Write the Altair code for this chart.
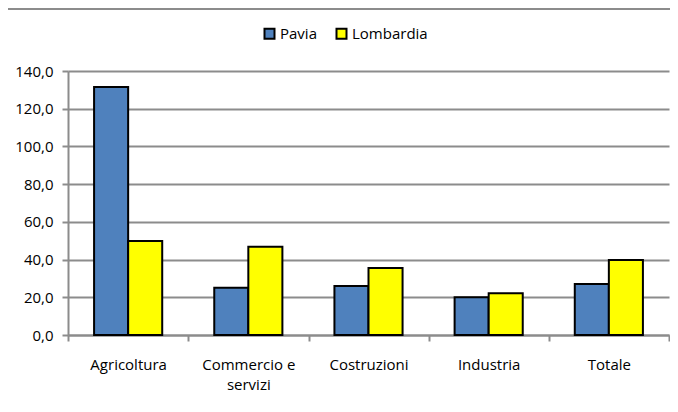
import altair as alt
import pandas as pd

categories = ["Agricoltura", "Commercio e servizi", "Costruzioni", "Industria", "Totale"]
pavia = [131.5, 25.0, 26.0, 20.0, 27.0]
lombardia = [49.8, 46.8, 35.5, 22.2, 39.8]
series = ["Pavia", "Lombardia"]
colors = ["#4F81BD", "#FFFF00"]

rows = []
for c, p, l in zip(categories, pavia, lombardia):
    rows.append({"cat": c, "serie": "Pavia", "val": p})
    rows.append({"cat": c, "serie": "Lombardia", "val": l})
df = pd.DataFrame(rows)

FONT = "Open Sans"
FS = 15
GRID = "#8c8c8c"

xscale = alt.Scale(domain=categories, paddingInner=0.433, paddingOuter=0.217)

bars = alt.Chart(df).mark_bar(stroke="black", strokeWidth=2).encode(
    x=alt.X("cat:N", scale=xscale, sort=categories, title=None,
            axis=alt.Axis(labelAngle=0, tickOffset=-60, labelOffset=60,
                          tickColor=GRID, tickWidth=2, tickSize=6,
                          domainColor=GRID, domainWidth=2,
                          labelFont=FONT, labelFontSize=FS, labelColor="#000",
                          labelPadding=16, labelLimit=200, labelLineHeight=20,
                          labelExpr="datum.label == 'Commercio e servizi' ? ['Commercio e', 'servizi'] : datum.label")),
    xOffset=alt.XOffset("serie:N", sort=series, scale=alt.Scale(domain=series, paddingInner=0, paddingOuter=0)),
    y=alt.Y("val:Q", scale=alt.Scale(domain=[0, 140], nice=False), title=None,
            axis=alt.Axis(values=list(range(0, 141, 20)), grid=True, gridColor=GRID, gridWidth=2,
                          domainColor=GRID, domainWidth=2, tickColor=GRID, tickWidth=2, tickSize=6,
                          labelFont=FONT, labelFontSize=FS, labelColor="#000", labelPadding=9,
                          labelExpr="replace(format(datum.value, '.1f'), '.', ',')")),
    color=alt.Color("serie:N", sort=series, scale=alt.Scale(domain=series, range=colors),
                    legend=alt.Legend(title=None, orient="none", direction="horizontal",
                                      legendX=194, legendY=-45, symbolType="square",
                                      symbolSize=100, symbolStrokeColor="black", symbolStrokeWidth=2,
                                      labelFont=FONT, labelFontSize=FS, labelColor="#000",
                                      columnPadding=15, labelOffset=3)),
)

endtick = alt.Chart(pd.DataFrame({"cat": ["Totale"]})).mark_text(text="").encode(
    x=alt.X("cat:N", scale=xscale, sort=categories, title=None,
            axis=alt.Axis(orient="bottom", values=["Totale"], labels=False, domain=False,
                          tickOffset=60, tickColor=GRID, tickWidth=2, tickSize=6)),
)

topline = alt.Chart(pd.DataFrame({"k": [0]})).mark_rule(color=GRID, strokeWidth=2).encode(
    x=alt.value(-70), x2=alt.value(620), y=alt.value(-62)
)

chart = alt.layer(bars, endtick, topline).resolve_axis(x="independent").properties(
    width=601, height=264,
    autosize=alt.AutoSizeParams(type="none"),
    padding={"left": 60, "top": 63, "right": 1, "bottom": 69}
).configure_view(stroke=None).configure_axis(gridCap="butt")

chart.save("out.html", embed_options={"renderer": "svg", "actions": False})
